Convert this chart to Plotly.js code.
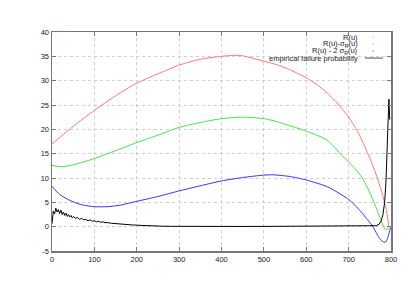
<!DOCTYPE html>
<html>
<head>
<meta charset="utf-8">
<script src="https://cdn.plot.ly/plotly-3.0.1.min.js"></script>
<style>html,body{margin:0;padding:0;background:#fff;}#chart{width:415px;height:291px;}</style>
</head>
<body>
<div id="chart"></div>
<script>
// R(u)
var uR = [0, 50, 100, 150, 200, 250, 300, 350, 400, 430, 450, 500, 530, 560, 600, 625, 650, 675, 700, 720, 742, 755, 767, 777, 784, 790, 795];
var vR = [17.0, 20.6, 23.9, 26.9, 29.5, 31.4, 33.2, 34.4, 35.0, 35.2, 35.1, 34.0, 33.3, 32.3, 30.6, 29.2, 27.4, 25.2, 22.5, 19.8, 15.7, 13.0, 10.2, 7.5, 5.2, 3.0, 0.0];
// R(u) - sigma
var uG = [0, 20, 50, 100, 153, 200, 250, 300, 350, 400, 450, 500, 530, 560, 600, 625, 649, 665, 680, 700, 715, 731, 745, 759, 768, 775, 781, 787, 793, 799];
var vG = [12.6, 12.3, 12.7, 14.0, 15.7, 17.3, 18.8, 20.4, 21.4, 22.2, 22.5, 22.2, 21.6, 20.8, 19.6, 18.8, 17.8, 16.5, 15.0, 13.3, 11.9, 10.2, 7.9, 5.2, 3.2, 1.6, 0.3, -0.6, -0.4, 0.1];
// R(u) - 2 sigma
var uB = [0, 10, 20, 42, 70, 100, 130, 160, 200, 250, 300, 350, 400, 450, 500, 523, 562, 600, 650, 675, 700, 715, 730, 742, 755, 763, 770, 777, 784, 788, 792, 796, 799];
var vB = [8.3, 7.3, 6.5, 5.4, 4.5, 4.1, 4.1, 4.4, 5.2, 6.2, 7.35, 8.4, 9.4, 10.1, 10.6, 10.65, 10.3, 9.6, 8.2, 7.0, 5.6, 4.4, 3.0, 1.7, 0.3, -0.9, -2.0, -2.8, -3.2, -3.1, -2.4, -1.2, -0.2];
// empirical failure probability
var uE = [0,3,6,9,12,15,18,21,24,27,30,33,36,39,42,45,48,51,55,60,65,70,75,80,85,90,95,100,105,110,115,120,125,130,140,150,160,170,180,190,200,210,220,230,240,250,260,280,300,350,400,500,600,700,750,765,772,777,781,785,788,791,793,795,797];
var vE = [0.6,3.2,2.6,3.8,3.0,3.5,2.7,3.4,2.5,3.0,2.3,2.8,2.1,2.5,2.0,2.3,1.8,2.1,1.7,1.9,1.5,1.7,1.4,1.5,1.2,1.4,1.1,1.2,1.0,1.1,0.9,1.0,0.8,0.85,0.7,0.6,0.55,0.45,0.4,0.35,0.3,0.25,0.2,0.18,0.15,0.12,0.1,0.07,0.05,0.05,0.05,0.05,0.05,0.05,0.1,0.2,0.5,1.2,2.5,5,9,15,21,26.2,22];

var xTicks = [0, 100, 200, 300, 400, 500, 600, 700, 800];
var yTicks = [-5, 0, 5, 10, 15, 20, 25, 30, 35, 40];
var legendLabels = ['R(u)', 'R(u)-σ<sub>R</sub>(u)', 'R(u) - 2 σ<sub>R</sub>(u)', 'empirical failure probability'];
var colors = ['rgb(255,120,120)', 'rgb(70,225,70)', 'rgb(50,50,255)', '#000000'];

var traces = [
  {x: uR, y: vR, mode: 'lines', line: {color: colors[0], width: 1, shape: 'spline', smoothing: 0.6}, showlegend: false},
  {x: uG, y: vG, mode: 'lines', line: {color: colors[1], width: 1, shape: 'spline', smoothing: 0.6}, showlegend: false},
  {x: uB, y: vB, mode: 'lines', line: {color: colors[2], width: 1, shape: 'spline', smoothing: 0.6}, showlegend: false},
  {x: uE, y: vE, mode: 'lines', line: {color: colors[3], width: 1}, showlegend: false}
];

var rowY = [0.977, 0.945, 0.913, 0.881];
var annotations = legendLabels.map(function (t, i) {
  return {xref: 'paper', yref: 'paper', x: 0.909, y: rowY[i], xanchor: 'right', yanchor: 'middle',
    text: t, showarrow: false, font: {family: 'Liberation Sans, Arial, sans-serif', size: 7.5, color: '#222'}};
});
var shapes = [];
for (var i = 0; i < 3; i++) {
  shapes.push({type: 'line', xref: 'paper', yref: 'paper', x0: 0.946, x1: 0.949, y0: rowY[i], y1: rowY[i],
    line: {color: colors[i], width: 1}});
}
shapes.push({type: 'line', xref: 'paper', yref: 'paper', x0: 0.923, x1: 0.976, y0: rowY[3], y1: rowY[3],
  line: {color: '#888', width: 1.5}});

var axisCommon = {
  showline: true, linecolor: '#777', linewidth: 1.5, mirror: 'ticks',
  ticks: 'inside', ticklen: 4, tickcolor: '#777', tickwidth: 1,
  showgrid: true, gridcolor: '#cfcfcf', griddash: 'dot', gridwidth: 1,
  zeroline: false,
  tickfont: {family: 'Liberation Sans, Arial, sans-serif', size: 7.5, color: '#222'}
};

var layout = {
  width: 415, height: 291,
  margin: {l: 52, r: 24, t: 32, b: 40},
  paper_bgcolor: '#fff', plot_bgcolor: '#fff',
  showlegend: false,
  xaxis: Object.assign({}, axisCommon, {range: [0, 800], tickvals: xTicks, ticktext: xTicks.map(String)}),
  yaxis: Object.assign({}, axisCommon, {range: [-5, 40], tickvals: yTicks, ticktext: yTicks.map(String)}),
  annotations: annotations,
  shapes: shapes
};

Plotly.newPlot('chart', traces, layout, {staticPlot: true, displayModeBar: false});
</script>
</body>
</html>
